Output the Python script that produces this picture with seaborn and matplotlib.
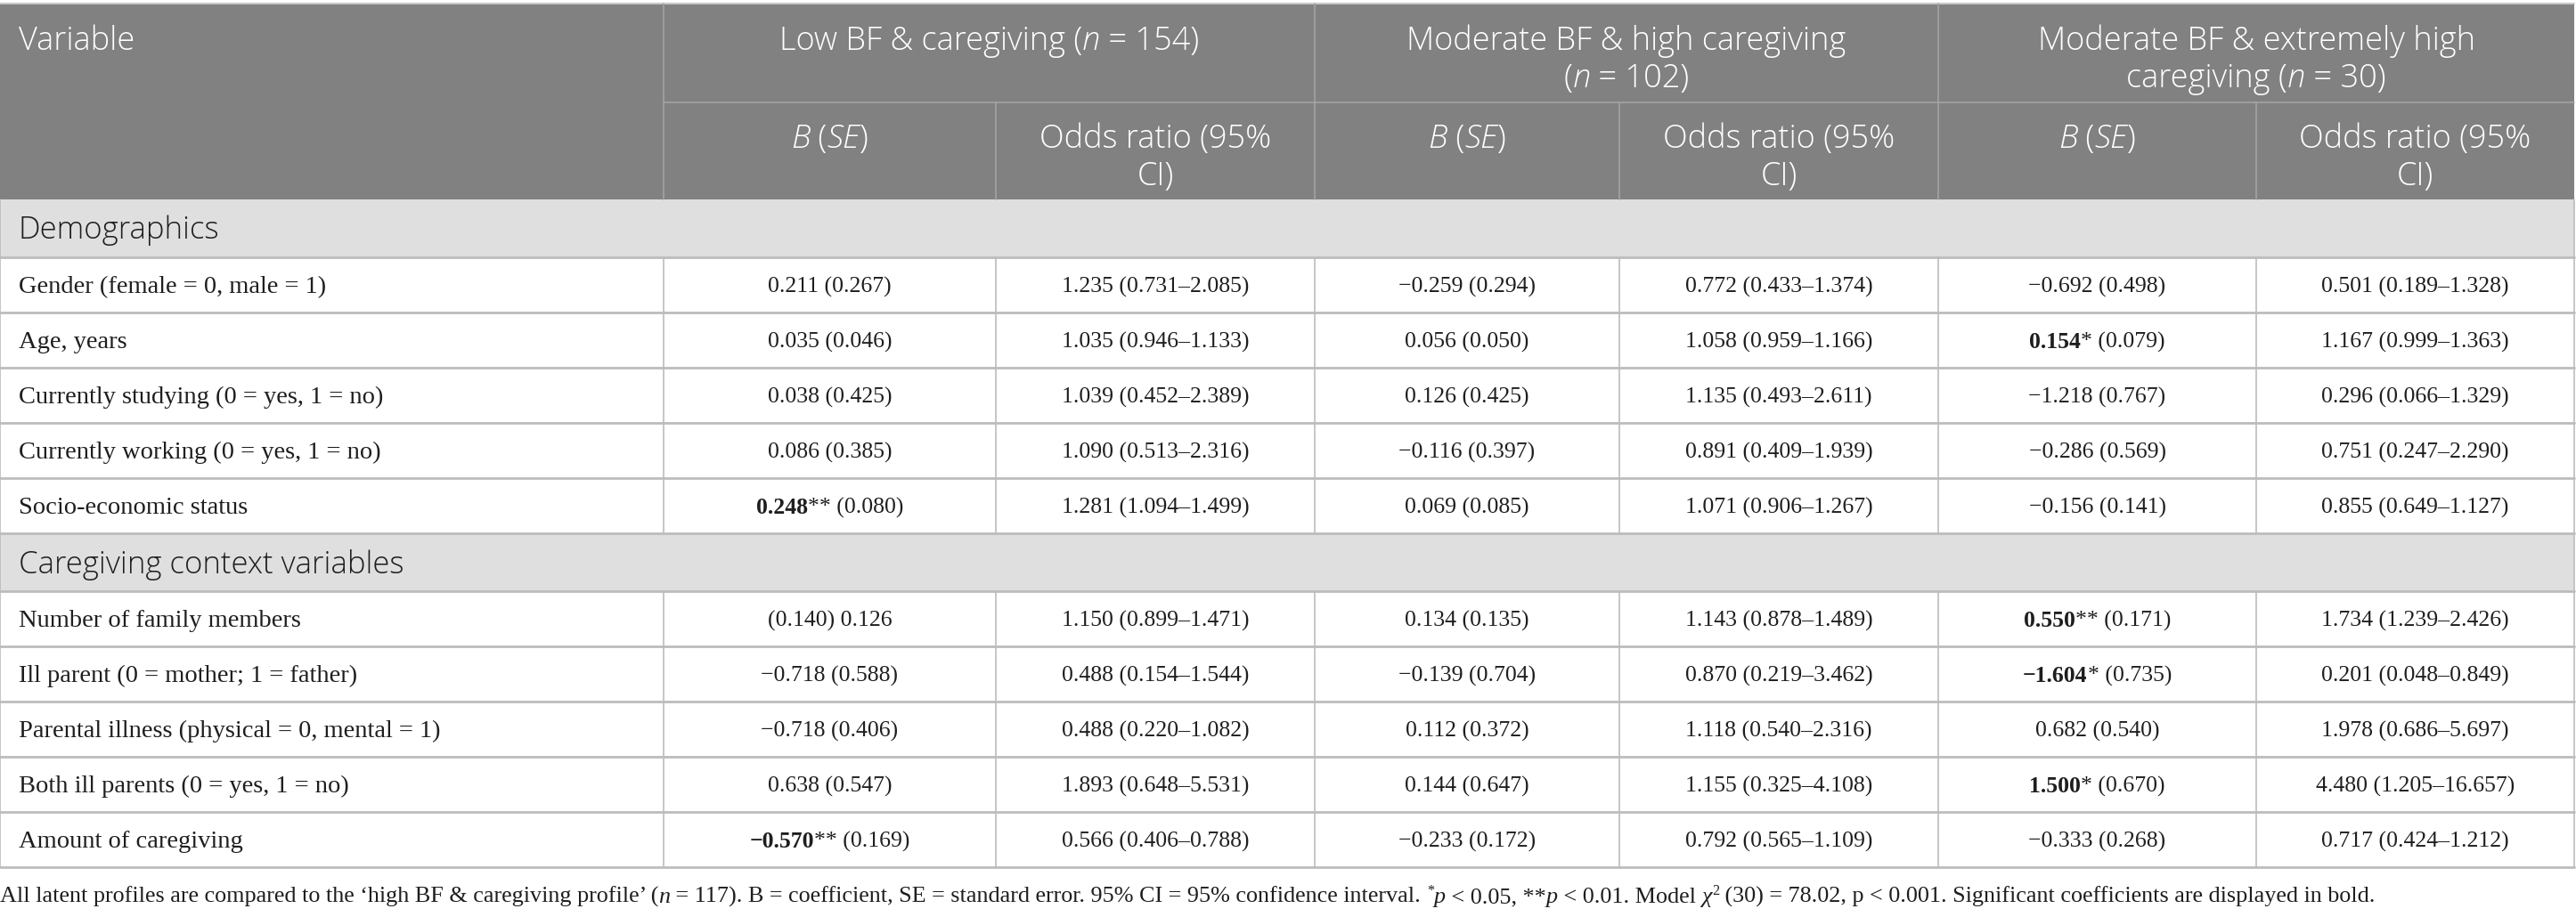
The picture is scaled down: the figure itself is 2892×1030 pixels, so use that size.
import numpy as np
import pandas as pd
import seaborn as sns
import matplotlib
matplotlib.use("Agg")
import matplotlib.pyplot as plt
from matplotlib.patches import Rectangle

# table content
demo_vars = ["Gender (female = 0, male = 1)", "Age, years", "Currently studying (0 = yes, 1 = no)",
             "Currently working (0 = yes, 1 = no)", "Socio-economic status"]
care_vars = ["Number of family members", "Ill parent (0 = mother; 1 = father)",
             "Parental illness (physical = 0, mental = 1)", "Both ill parents (0 = yes, 1 = no)",
             "Amount of caregiving"]
sections = ["Demographics", "Caregiving context variables"]

b_low = ["0.211 (0.267)", "0.035 (0.046)", "0.038 (0.425)", "0.086 (0.385)", "0.248** (0.080)",
         "(0.140) 0.126", "\u22120.718 (0.588)", "\u22120.718 (0.406)", "0.638 (0.547)", "\u22120.570** (0.169)"]
or_low = ["1.235 (0.731\u20132.085)", "1.035 (0.946\u20131.133)", "1.039 (0.452\u20132.389)", "1.090 (0.513\u20132.316)",
          "1.281 (1.094\u20131.499)", "1.150 (0.899\u20131.471)", "0.488 (0.154\u20131.544)", "0.488 (0.220\u20131.082)",
          "1.893 (0.648\u20135.531)", "0.566 (0.406\u20130.788)"]
b_mod = ["\u22120.259 (0.294)", "0.056 (0.050)", "0.126 (0.425)", "\u22120.116 (0.397)", "0.069 (0.085)",
         "0.134 (0.135)", "\u22120.139 (0.704)", "0.112 (0.372)", "0.144 (0.647)", "\u22120.233 (0.172)"]
or_mod = ["0.772 (0.433\u20131.374)", "1.058 (0.959\u20131.166)", "1.135 (0.493\u20132.611)", "0.891 (0.409\u20131.939)",
          "1.071 (0.906\u20131.267)", "1.143 (0.878\u20131.489)", "0.870 (0.219\u20133.462)", "1.118 (0.540\u20132.316)",
          "1.155 (0.325\u20134.108)", "0.792 (0.565\u20131.109)"]
b_ext = ["\u22120.692 (0.498)", "0.154* (0.079)", "\u22121.218 (0.767)", "\u22120.286 (0.569)", "\u22120.156 (0.141)",
         "0.550** (0.171)", "\u22121.604* (0.735)", "0.682 (0.540)", "1.500* (0.670)", "\u22120.333 (0.268)"]
or_ext = ["0.501 (0.189\u20131.328)", "1.167 (0.999\u20131.363)", "0.296 (0.066\u20131.329)", "0.751 (0.247\u20132.290)",
          "0.855 (0.649\u20131.127)", "1.734 (1.239\u20132.426)", "0.201 (0.048\u20130.849)", "1.978 (0.686\u20135.697)",
          "4.480 (1.205\u201316.657)", "0.717 (0.424\u20131.212)"]

# group headers: list of lines, each line a list of (text, style) runs
group_low = [[("Low BF & caregiving (", ""), ("n", "i"), (" = 154)", "")]]
group_mod = [[("Moderate BF & high caregiving", "")], [("(", ""), ("n", "i"), (" = 102)", "")]]
group_ext = [[("Moderate BF & extremely high", "")], [("caregiving (", ""), ("n", "i"), (" = 30)", "")]]
groups = [group_low, group_mod, group_ext]

sns.set_theme(style="white")
SERIF = ["Liberation Serif", "DejaVu Serif"]
SANS = ["Open Sans", "Lato", "DejaVu Sans"]
HEAD_BG = "#808180"
BAND_BG = "#e0dfe0"
LINE = "#bcbcbc"
HEAD_LINE = "#a3a3a3"
TXT = "#1e1e1e"

W, H = 2892, 1030
fig = plt.figure(figsize=(W / 100, H / 100), dpi=100)
ax = fig.add_axes([0, 0, 1, 1])
ax.set_xlim(0, W)
ax.set_ylim(H, 0)
ax.axis("off")
fig.canvas.draw()
renderer = fig.canvas.get_renderer()

_bar = {}


def run_width(s, kw):
    key = (kw.get("fontsize"), kw.get("fontweight"), kw.get("fontstyle"), tuple(kw.get("family")))
    if key not in _bar:
        t = ax.text(0, 0, "||", **kw)
        _bar[key] = t.get_window_extent(renderer).width
        t.remove()
    t = ax.text(0, 0, "|" + s + "|", **kw)
    w = t.get_window_extent(renderer).width
    t.remove()
    return w - _bar[key]


def draw_runs(x, y, runs, ha="left", size=19, family=SERIF, color=TXT, weight="normal"):
    # y is the baseline position in pixels
    pieces = []
    for s, st in runs:
        kw = dict(fontsize=size, family=family, color=color,
                  fontweight="bold" if "b" in st else weight,
                  fontstyle="italic" if "i" in st else "normal")
        dy = 0
        if "s" in st:
            kw["fontsize"] = size * 0.62
            dy = -size * 1.389 * 0.36
        pieces.append((s, kw, dy, run_width(s, kw)))
    total = sum(p[3] for p in pieces)
    cx = x - total / 2 if ha == "center" else x
    for s, kw, dy, w in pieces:
        ax.text(cx, y + dy, s, ha="left", va="baseline", **kw)
        cx += w


def coef_runs(cell):
    num, rest = cell.split(" ", 1)
    if "*" in num:
        val = num.rstrip("*")
        return [(val, "b"), (num[len(val):] + " " + rest, "")]
    return [(cell, "")]


# layout
col_x = [0, 745, 1118, 1476, 1818, 2176, 2533, 2890]
top, head_mid, head_bot = 4, 115, 224
band_h, row_h = 65, 62

# header block
ax.add_patch(Rectangle((0, top), col_x[-1], head_bot - top, color=HEAD_BG, lw=0))
ax.plot([0, col_x[-1]], [top, top], color="#c8c8c8", lw=1.5)
ax.plot([col_x[1], col_x[-1]], [head_mid, head_mid], color=HEAD_LINE, lw=1.2)
for xv in [col_x[1], col_x[3], col_x[5]]:
    ax.plot([xv, xv], [top, head_mid], color=HEAD_LINE, lw=1.2)
for xv in col_x[1:-1]:
    ax.plot([xv, xv], [head_mid, head_bot], color=HEAD_LINE, lw=1.2)

HS = 26
hk = dict(size=HS, family=SANS, color="white", weight=300)
draw_runs(21, 43 + 13, [("Variable", "")], **hk)
for g, lines in enumerate(groups):
    cx = (col_x[1 + 2 * g] + col_x[3 + 2 * g]) / 2
    for k, line in enumerate(lines):
        draw_runs(cx, 43 + 13 + 42 * k, line, ha="center", **hk)
    cb = (col_x[1 + 2 * g] + col_x[2 + 2 * g]) / 2
    co = (col_x[2 + 2 * g] + col_x[3 + 2 * g]) / 2
    draw_runs(cb, 153 + 13, [("B", "i"), (" (", ""), ("SE", "i"), (")", "")], ha="center", **hk)
    draw_runs(co, 153 + 13, [("Odds ratio (95%", "")], ha="center", **hk)
    draw_runs(co, 195 + 13, [("CI)", "")], ha="center", **hk)

# body
df = pd.DataFrame({"variable": demo_vars + care_vars, "b_low": b_low, "or_low": or_low,
                   "b_mod": b_mod, "or_mod": or_mod, "b_ext": b_ext, "or_ext": or_ext})
sec_rows = [demo_vars, care_vars]
y = head_bot
i = 0
LS, NS = 20.5, 18.5
for s, name in enumerate(sections):
    ax.add_patch(Rectangle((0, y), col_x[-1], band_h, color=BAND_BG, lw=0))
    draw_runs(21, y + band_h / 2 + 12, [(name, "")], size=25, family=SANS, color=TXT, weight=300)
    ax.plot([0, 0], [y, y + band_h], color=LINE, lw=1.2)
    ax.plot([col_x[-1], col_x[-1]], [y, y + band_h], color=LINE, lw=1.2)
    ax.plot([0, col_x[-1]], [y + band_h, y + band_h], color=LINE, lw=2)
    y += band_h
    for _ in sec_rows[s]:
        row = df.iloc[i]
        base = y + row_h / 2 + 9
        draw_runs(21, base, [(row["variable"], "")], size=LS)
        cells = [coef_runs(row["b_low"]), [(row["or_low"], "")],
                 coef_runs(row["b_mod"]), [(row["or_mod"], "")],
                 coef_runs(row["b_ext"]), [(row["or_ext"], "")]]
        for c, runs in enumerate(cells):
            draw_runs((col_x[c + 1] + col_x[c + 2]) / 2, base, runs, ha="center", size=NS)
        for xv in col_x:
            ax.plot([xv, xv], [y, y + row_h], color=LINE, lw=1.2)
        ax.plot([0, col_x[-1]], [y + row_h, y + row_h], color=LINE, lw=2)
        y += row_h
        i += 1

# footnote
note = [("All latent profiles are compared to the \u2018high BF & caregiving profile\u2019 (", ""), ("n", "i"),
        (" = 117). B = coefficient, SE = standard error. 95% CI = 95% confidence interval. ", ""),
        ("*", "s"), ("p", "i"), (" < 0.05, **", ""), ("p", "i"), (" < 0.01. Model ", ""),
        ("\u03c7", "i"), ("2", "s"), (" (30) = 78.02, p < 0.001. Significant coefficients are displayed in bold.", "")]
draw_runs(0, 1014, note, size=18.8)

fig.savefig("out.png", dpi=100)
